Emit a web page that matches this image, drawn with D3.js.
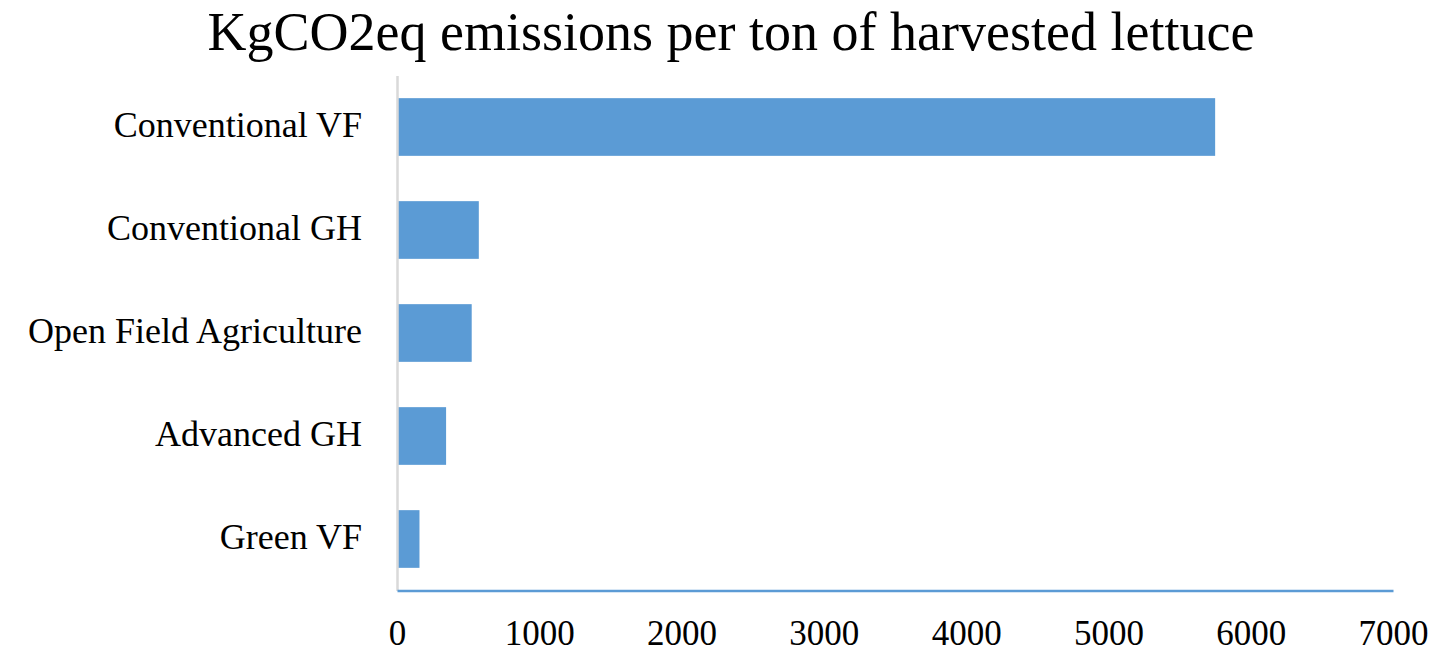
<!DOCTYPE html>
<html>
<head>
<meta charset="utf-8">
<script src="https://cdn.jsdelivr.net/npm/d3@7"></script>
<style>
  html, body { margin: 0; padding: 0; background: #fff; }
  svg text { font-family: "Liberation Serif", "DejaVu Serif", serif; fill: #000; }
</style>
</head>
<body>
<div id="visual-container"></div>
<script>
const categories = ['Conventional VF', 'Conventional GH', 'Open Field Agriculture', 'Advanced GH', 'Green VF']
const emissions = [5750, 575, 525, 345, 158]
const xTicks = [0, 1000, 2000, 3000, 4000, 5000, 6000, 7000]
const chartTitle = 'KgCO2eq emissions per ton of harvested lettuce'

const width = 1438
const height = 654
const plotLeft = 397
const plotRight = 1393
const plotTop = 75.5
const plotBottom = 590.5

const data = categories.map((c, i) => ({ name: c, value: emissions[i] }))

const svg = d3.select('#visual-container')
            .append('svg')
            .attr('width', width)
            .attr('height', height)

const xScale = d3.scaleLinear()
                .domain([0, 7000])
                .range([plotLeft, plotRight])

const yScale = d3.scaleBand()
                .domain(categories)
                .range([plotTop, plotBottom])
                .paddingInner(0.44)
                .paddingOuter(0.22)

svg.append('text')
    .attr('x', 731)
    .attr('y', 50)
    .attr('text-anchor', 'middle')
    .style('font-size', '54px')
    .text(chartTitle)

svg.selectAll('rect.bar')
    .data(data)
    .enter()
    .append('rect')
    .attr('class', 'bar')
    .attr('x', xScale(0))
    .attr('y', d => yScale(d.name))
    .attr('width', d => xScale(d.value) - xScale(0))
    .attr('height', yScale.bandwidth())
    .attr('fill', '#5b9bd5')

// category axis: gray line, no ticks
const yAxis = d3.axisLeft(yScale).tickSize(0).tickPadding(35)
const yg = svg.append('g')
    .attr('transform', `translate(${plotLeft}, 0)`)
    .call(yAxis)
yg.select('.domain').attr('stroke', '#d9d9d9').attr('stroke-width', 2.5)
yg.selectAll('text')
    .style('font-size', '36px')
    .attr('dy', '0.28em')

const xAxis = d3.axisBottom(xScale)
                .tickValues(xTicks)
                .tickFormat(d3.format('d'))
                .tickSize(0)
                .tickPadding(30)
const xg = svg.append('g')
    .attr('transform', `translate(0, ${plotBottom})`)
    .call(xAxis)
xg.select('.domain').attr('stroke', '#5b9bd5').attr('stroke-width', 2.5)
xg.selectAll('text')
    .style('font-size', '35px')
    .attr('dy', '0.71em')
</script>
</body>
</html>
